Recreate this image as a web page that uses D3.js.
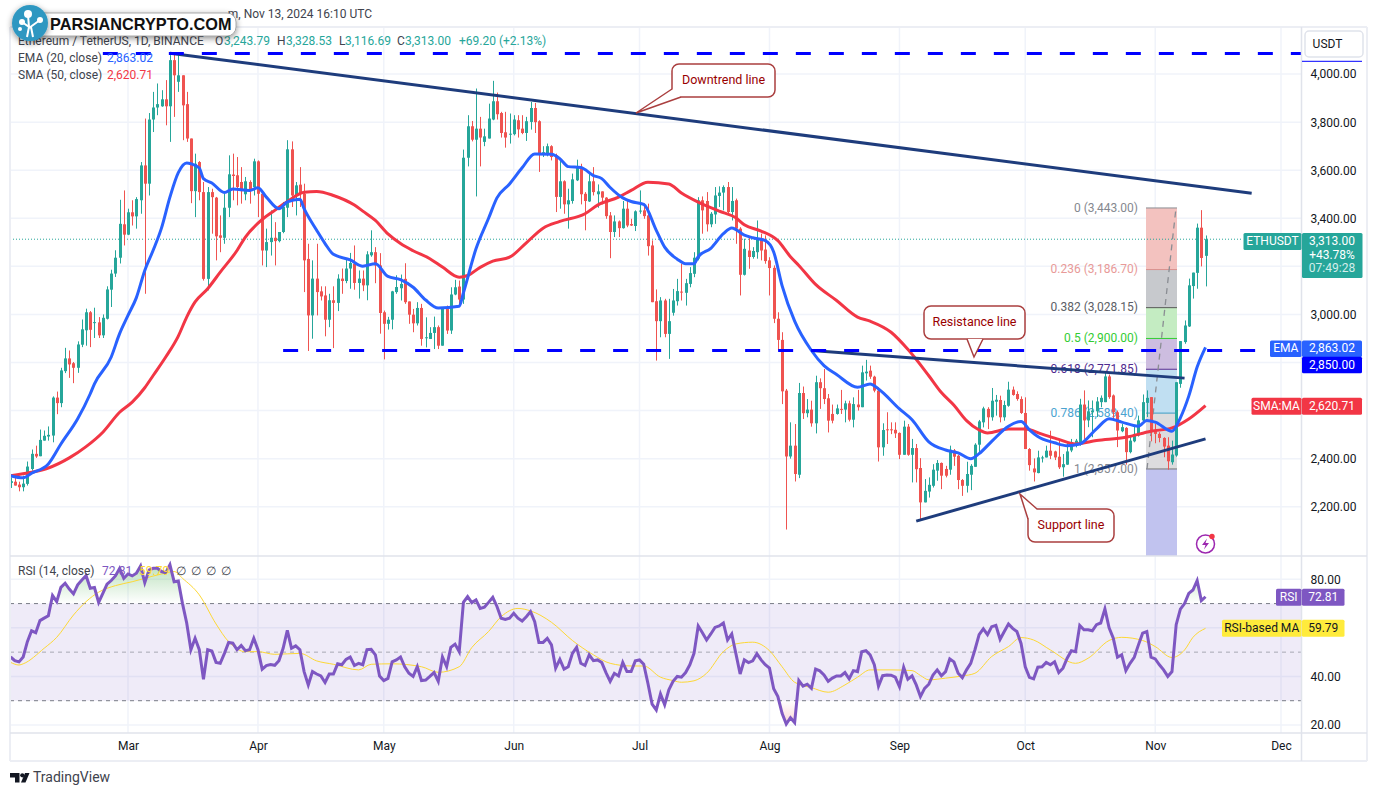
<!DOCTYPE html>
<html>
<head>
<meta charset="utf-8">
<script src="https://cdn.jsdelivr.net/npm/d3@7"></script>
<style>
  html, body { margin: 0; padding: 0; background: #fff; }
  svg { display: block; }
  text { font-family: Roboto, "Noto Sans", sans-serif; }
</style>
</head>
<body>
<svg id="chart" width="1377" height="796"></svg>
<script>
// Daily candles, one row per day from 2 Feb 2024: open, high, low, close
const candles = [
  [2299,2322,2278,2306],[2304,2322,2288,2288],[2292,2304,2264,2281],[2281,2329,2264,2296],[2295,2388,2288,2367],
  [2357,2438,2350,2420],[2420,2454,2403,2409],[2410,2521,2410,2478],[2475,2517,2475,2495],[2492,2534,2475,2499],
  [2496,2659,2468,2654],[2654,2679,2585,2631],[2631,2778,2614,2767],[2764,2861,2756,2817],[2817,2850,2736,2792],
  [2797,2802,2714,2778],[2778,2888,2757,2875],[2874,2979,2864,2938],[2934,3024,2870,3009],[3009,3014,2864,2936],
  [2964,3028,2902,2968],[2967,2989,2902,2913],[2913,3000,2902,2986],[2982,3117,2979,3104],[3103,3186,3031,3170],
  [3170,3267,3156,3236],[3236,3477,3212,3377],[3375,3516,3287,3332],[3332,3440,3330,3425],[3425,3475,3370,3408],
  [3408,3488,3357,3480],[3475,3634,3419,3620],[3620,3815,3086,3544],[3544,3838,3495,3811],[3811,3926,3759,3861],
  [3861,3961,3829,3875],[3866,3933,3864,3895],[3895,3975,3787,3866],[3866,4079,3718,4058],[4058,4086,3822,3995],
  [3968,4079,3926,3995],[3995,3995,3725,3870],[3875,3926,3718,3732],[3732,3732,3463,3513],[3513,3669,3405,3627],
  [3634,3638,3475,3509],[3509,3551,3141,3148],[3148,3530,3100,3509],[3509,3523,3336,3488],[3486,3489,3225,3325],
  [3329,3412,3259,3319],[3319,3502,3294,3444],[3444,3662,3405,3583],[3582,3669,3475,3576],[3579,3655,3454,3530],
  [3551,3613,3461,3513],[3500,3572,3475,3554],[3551,3558,3461,3516],[3530,3648,3495,3637],[3637,3641,3405,3502],
  [3502,3516,3204,3266],[3266,3357,3197,3301],[3301,3433,3245,3319],[3319,3384,3204,3305],[3305,3343,3300,3343],
  [3343,3468,3338,3447],[3444,3725,3405,3687],[3687,3720,3447,3495],[3495,3551,3412,3537],[3540,3613,3447,3502],
  [3502,3544,3093,3225],[3231,3294,2848,2996],[2996,3225,2899,3149],[3149,3294,2996,3093],[3096,3117,3058,3075],
  [3079,3117,2909,2978],[2978,3086,2947,3059],[3059,3117,2860,3048],[3048,3167,3014,3149],[3149,3191,3086,3139],
  [3139,3231,3130,3191],[3191,3256,3107,3214],[3211,3287,3103,3131],[3131,3183,3066,3149],[3149,3183,3097,3121],
  [3121,3263,3059,3250],[3246,3350,3240,3259],[3259,3280,3130,3204],[3204,3255,2920,3006],[3009,3016,2813,2961],
  [2961,2990,2937,2978],[2978,3098,2938,3096],[3093,3163,3086,3114],[3109,3166,3058,3127],[3148,3213,3044,3051],
  [3054,3054,2961,2999],[2999,3023,2926,2963],[2963,3051,2954,3027],[3027,3044,2870,2898],[2901,2988,2863,2905],
  [2898,2947,2898,2923],[2923,2991,2856,2947],[2947,2954,2856,2870],[2870,3030,2870,3027],[3023,3037,2919,2933],
  [2933,3113,2919,3083],[3083,3144,3080,3113],[3116,3141,3037,3062],[3062,3686,3044,3652],[3652,3829,3616,3783],
  [3783,3805,3720,3727],[3727,3940,3491,3773],[3773,3822,3616,3736],[3718,3773,3700,3741],[3732,3877,3732,3815],
  [3811,3972,3808,3887],[3887,3923,3811,3833],[3838,3843,3736,3755],[3758,3843,3694,3736],[3750,3836,3711,3752],
  [3750,3829,3745,3811],[3808,3829,3736,3770],[3773,3829,3750,3755],[3755,3822,3722,3804],[3801,3884,3769,3859],
  [3859,3880,3755,3800],[3804,3808,3593,3666],[3665,3700,3655,3675],[3665,3711,3658,3700],[3700,3704,3641,3655],
  [3662,3669,3426,3489],[3489,3648,3440,3554],[3554,3558,3419,3458],[3458,3523,3357,3475],[3472,3586,3461,3562],
  [3558,3644,3555,3614],[3614,3627,3458,3500],[3502,3509,3350,3472],[3470,3586,3468,3554],[3554,3613,3495,3509],
  [3500,3541,3444,3512],[3512,3512,3458,3486],[3486,3488,3398,3409],[3412,3426,3234,3343],[3343,3412,3322,3387],
  [3387,3391,3322,3359],[3359,3472,3357,3440],[3440,3477,3363,3370],[3376,3398,3368,3370],[3368,3433,3347,3429],
  [3429,3516,3419,3432],[3433,3461,3398,3409],[3412,3461,3245,3284],[3287,3308,3051,3051],[3055,3104,2808,2972],
  [2972,3072,2905,3058],[3058,3065,2905,2919],[2919,3065,2815,2972],[3007,3106,2995,3058],[3055,3148,3037,3097],
  [3095,3211,3058,3093],[3090,3148,3037,3130],[3127,3197,3113,3172],[3169,3259,3155,3236],[3232,3488,3225,3475],
  [3475,3491,3336,3433],[3472,3509,3345,3375],[3375,3426,3363,3419],[3416,3530,3377,3495],[3493,3533,3447,3507],
  [3507,3537,3433,3530],[3530,3551,3419,3426],[3426,3530,3391,3472],[3475,3482,3294,3357],[3357,3363,3079,3165],
  [3165,3315,3162,3273],[3266,3322,3190,3239],[3239,3280,3232,3264],[3259,3391,3232,3315],[3315,3336,3225,3266],
  [3270,3329,3211,3222],[3225,3238,3079,3193],[3194,3204,2964,2982],[2982,3009,2850,2894],[2894,2926,2627,2680],
  [2683,2690,2105,2409],[2409,2551,2400,2454],[2454,2544,2305,2336],[2333,2715,2319,2673],[2673,2700,2565,2589],
  [2589,2648,2572,2604],[2604,2641,2533,2547],[2547,2745,2505,2718],[2718,2734,2607,2693],[2693,2773,2627,2648],
  [2651,2669,2509,2558],[2586,2625,2547,2558],[2586,2625,2583,2609],[2607,2686,2586,2604],[2604,2641,2551,2630],
  [2630,2641,2555,2562],[2562,2655,2530,2627],[2625,2686,2600,2614],[2614,2787,2614,2759],[2755,2811,2725,2762],
  [2766,2787,2732,2741],[2741,2745,2676,2683],[2683,2697,2388,2447],[2447,2547,2412,2519],[2522,2593,2461,2519],
  [2522,2551,2502,2519],[2520,2551,2486,2505],[2507,2509,2398,2416],[2416,2558,2416,2533],[2533,2544,2412,2416],
  [2416,2482,2301,2444],[2444,2461,2301,2356],[2361,2402,2141,2218],[2218,2315,2218,2266],[2263,2322,2238,2291],
  [2287,2377,2280,2354],[2350,2394,2308,2382],[2382,2384,2273,2329],[2357,2370,2322,2329],[2354,2454,2333,2437],
  [2434,2440,2370,2408],[2412,2416,2273,2311],[2311,2315,2245,2287],[2287,2387,2259,2336],[2333,2377,2269,2370],
  [2366,2464,2366,2458],[2458,2561,2419,2555],[2551,2616,2530,2609],[2607,2614,2523,2572],[2572,2694,2558,2641],
  [2637,2665,2579,2645],[2644,2662,2551,2572],[2572,2641,2558,2623],[2620,2720,2616,2687],[2687,2700,2662,2665],
  [2669,2680,2641,2648],[2648,2659,2586,2590],[2590,2655,2440,2440],[2440,2444,2350,2373],[2359,2401,2305,2343],
  [2340,2433,2339,2405],[2402,2412,2384,2405],[2405,2454,2405,2433],[2433,2516,2398,2412],[2430,2433,2394,2405],
  [2408,2475,2357,2364],[2364,2419,2325,2377],[2375,2468,2374,2430],[2434,2482,2427,2468],[2458,2482,2447,2475],
  [2461,2649,2454,2625],[2625,2684,2482,2559],[2559,2642,2531,2597],[2593,2642,2489,2600],[2597,2656,2573,2638],
  [2635,2663,2614,2653],[2635,2756,2635,2742],[2742,2750,2649,2656],[2663,2667,2559,2593],[2593,2600,2448,2517],
  [2514,2545,2510,2531],[2528,2531,2375,2427],[2427,2496,2422,2475],[2472,2538,2468,2503],[2496,2579,2492,2559],
  [2559,2667,2556,2635],[2632,2684,2573,2653],[2656,2656,2472,2517],[2517,2545,2464,2503],[2503,2510,2468,2486],
  [2486,2489,2406,2450],[2454,2489,2354,2389],[2385,2475,2375,2417],[2413,2718,2408,2718],[2711,2889,2695,2889],
  [2885,2975,2878,2954],[2950,3149,2948,3121],[3118,3174,3066,3174],[3173,3378,3107,3361],[3361,3434,3200,3235],
  [3243.79,3328.53,3116.69,3313]
];

// Moving averages as [day index, value]
const ema20 = [[0,2329],[3,2320],[5,2339],[9,2378],[12,2461],[16,2566],[19,2670],[20,2711],[24,2823],[26,2920],[28,2996],[30,3070],
  [32,3183],[34,3267],[36,3360],[38,3488],[40,3590],[42,3630],[43,3627],[45,3609],[46,3565],[48,3547],[51,3507],[53,3522],[57,3516],
  [59,3527],[61,3488],[64,3440],[66,3468],[69,3479],[70,3440],[73,3350],[75,3295],[77,3250],[81,3227],[84,3201],[87,3211],[90,3158],
  [93,3145],[96,3113],[99,3060],[102,3027],[107,3034],[108,3090],[111,3273],[114,3400],[116,3485],[119,3543],[122,3610],[125,3668],
  [129,3666],[131,3648],[133,3615],[136,3611],[139,3578],[141,3565],[143,3528],[146,3485],[148,3470],[151,3458],[154,3350],[156,3280],
  [159,3230],[161,3211],[163,3211],[164,3240],[167,3275],[170,3336],[172,3360],[175,3330],[177,3319],[180,3307],[182,3260],[184,3120],
  [187,2972],[191,2850],[194,2787],[197,2750],[202,2697],[205,2711],[207,2690],[212,2607],[215,2562],[219,2470],[223,2436],[226,2424],
  [229,2400],[231,2421],[234,2472],[238,2535],[241,2555],[243,2520],[245,2492],[249,2466],[252,2454],[255,2461],[259,2524],[262,2566],
  [265,2552],[269,2535],[271,2559],[273,2552],[277,2514],[279,2570],[281,2660],[283,2781],[285,2863.02]];

const sma50 = [[0,2329],[5,2343],[9,2361],[14,2403],[18,2450],[22,2510],[26,2593],[29,2635],[32,2695],[34,2746],[37,2823],[40,2910],
  [42,2989],[44,3052],[47,3107],[50,3176],[54,3266],[56,3322],[60,3395],[63,3433],[66,3470],[70,3508],[73,3512],[77,3495],[82,3455],
  [84,3430],[87,3391],[90,3335],[93,3295],[96,3265],[100,3232],[103,3197],[107,3155],[109,3162],[112,3196],[115,3222],[119,3238],
  [123,3298],[127,3359],[131,3387],[137,3419],[140,3455],[145,3488],[148,3516],[152,3550],[157,3543],[160,3505],[164,3467],[169,3430],
  [173,3402],[175,3373],[179,3347],[183,3307],[186,3240],[188,3204],[192,3125],[197,3058],[202,2989],[205,2972],[210,2926],[214,2855],
  [219,2745],[222,2675],[225,2622],[228,2558],[231,2519],[233,2507],[238,2523],[242,2523],[246,2502],[250,2480],[254,2461],[259,2475],
  [266,2489],[272,2514],[277,2528],[281,2565],[285,2620.71]];

// RSI 14, one value per day
const rsi = [48,46.5,46,48,54.3,58.8,58,63,64,65,73.3,70.8,76.7,78.4,76,74,77.7,79.7,81.5,76.3,76.6,70.5,74.2,78,79.5,81.4,84.5,80.4,82.2,81.4,
  82.5,85.5,78.6,83.8,84.5,84.5,83.2,82.7,86,79,79.3,70,62,51,55.7,51,38.8,51,50.5,45.8,45.4,49.5,54,53.7,51,52.7,50.6,51,55.7,51,
  43,44.5,44.9,44.6,46.5,51.6,59,51.6,52.6,51,42,36.5,42,41,40.2,37.5,41,41,45.2,44.8,47,48,44.5,45.4,44.8,51,51.2,48.9,40.2,38.3,
  39.2,46,46.8,48,44,41.3,40,44,38.3,38.5,40,41.6,38,48,44,52,53.3,50.2,70.5,72.9,70.4,71.5,68,68.5,70.5,72.6,68.8,64,63.5,64,
  66,64,62.8,64.6,66.7,62.5,54,54,55.7,53,43.4,47,43,44,49.5,52,45.4,44.5,48.9,46.5,46.8,45.7,41.6,38,41.3,40.2,45.8,42,42,46.4,
  46.8,45,37.2,28.6,26.2,32.8,28.3,34.5,38,40,39.7,41.6,44.8,49.5,60.8,58,55,57.5,60.2,60.8,62,55,57.5,49.3,41,46.8,45.7,46.4,49.3,46.8,
  44.8,43.4,34.9,31.7,24.8,20.4,23,21,38.3,36,36.8,35.1,43,42.3,40.6,38,39.3,40.2,40.2,41.6,39,42.4,42,50.2,50.6,48.9,44.8,36,40.3,40.6,
  40.5,39.7,35.8,43.8,38.8,40.2,36.5,31.7,35.1,36.8,40.6,42.7,40.3,42,47.2,46,41.3,39.5,42.7,45.4,51,57.2,59.6,57.2,60.5,61,55.3,58.5,61.6,59.8,
  58.5,53.6,44,39.6,39,43.8,44,45.8,44.8,46,41.6,43.4,47.5,50.6,50.2,61,59.2,59.2,58.8,61.3,62,67.8,60,55.7,47.9,48.9,42.4,45.4,47.9,53,
  57.8,58.5,47.9,47.2,44.8,42.7,40,42,61.3,67.7,70,74.2,75.6,79.5,71.2,72.81];

const rsiMa = [[0,45.8],[2,44.7],[3,45.2],[8,51.6],[11,56.1],[15,65.3],[18,70.8],[21,74.7],[25,77.4],[29,79],[32,80.4],[36,82.2],[39,83.2],
  [41,80.4],[45,73.6],[49,61.6],[52,54.3],[56,50.2],[59,50.2],[63,49.1],[69,49.5],[73,46.4],[77,45],[83,42.7],[86,45],[91,45.2],[98,44],
  [102,41.7],[107,44],[110,51.9],[114,58.5],[117,64.6],[121,68],[124,67],[129,62.3],[134,54.8],[139,48.9],[143,45.4],[148,44.3],[151,44.3],
  [155,39.7],[158,38.3],[160,37.6],[163,38.2],[166,41.3],[170,50.2],[173,53.4],[177,54.1],[181,50.6],[184,44],[187,37.6],[191,35.4],[195,33.5],
  [199,36.5],[202,39.7],[205,42.7],[210,42.7],[215,42.4],[217,40.4],[219,38.6],[223,39.3],[227,40.2],[230,41.3],[234,48.2],[238,52.3],[241,56],
  [244,55],[248,50.9],[254,45.4],[257,47.5],[262,54.8],[265,56.1],[270,54.8],[273,52.3],[277,47.8],[280,50.9],[282,56.1],[285,59.79]];

// Fibonacci retracement drawn on the chart
const fibLevels = [
  { ratio: '0', price: 3443, line: '#8a8d93', text: '#85888f', fill: '#f3c2bf' },
  { ratio: '0.236', price: 3186.7, line: '#d98f8c', text: '#e89a98', fill: '#c7c9cd' },
  { ratio: '0.382', price: 3028.15, line: '#555', text: '#5b5e66', fill: '#c4ecc2' },
  { ratio: '0.5', price: 2900, line: '#33cc33', text: '#33cc33', fill: '#cdbde0' },
  { ratio: '0.618', price: 2771.85, line: '#5a2d91', text: '#4f2a8f', fill: '#c0dff2' },
  { ratio: '0.786', price: 2589.4, line: '#3a9bc5', text: '#4aa3d0', fill: '#dcdcde' },
  { ratio: '1', price: 2357, line: '#777', text: '#85888f', fill: '#c1c3ef' }
];

// Trend lines in [day index, price]
const trendLines = [
  [[38, 4087], [296, 3504]],
  [[191, 2850], [280, 2735]],
  [[216, 2140], [285, 2482]]
];
const dashedLevels = [
  { price: 4086, from: 22, to: 308 },
  { price: 2850, from: 65, to: 297 }
];

const colors = { up: '#26a69a', down: '#ef5350', ema: '#2962ff', sma: '#f23645', rsi: '#7e57c2', rsiMa: '#fdd835',
  grid: '#f0f3fa', border: '#e0e3eb', text: '#131722', navy: '#1e3c7c', note: '#990000', noteLine: '#aa3f3f' };

const svg = d3.select('#chart');

const left = 10, axisX = 1301.5, rightEdge = 1367;
const paneTop = 27, paneBottom = 556, rsiBottom = 733, frameBottom = 761;

const dayZero = Date.UTC(2024, 1, 2);
const dateOf = i => d3.utcDay.offset(dayZero, i);

// Scales
const x = d3.scaleUtc()
  .domain([Date.UTC(2024, 2, 1), Date.UTC(2024, 11, 1)])
  .range([128, 1281]);
const y = d3.scaleLinear().domain([2200, 4000]).range([506.7, 74.1]);
const yRsi = d3.scaleLinear().domain([20, 80]).range([725, 579.3]);

const xi = i => x(dateOf(i));

const defs = svg.append('defs');
defs.append('clipPath').attr('id', 'price-clip')
  .append('rect').attr('x', left).attr('y', paneTop).attr('width', axisX - left).attr('height', paneBottom - paneTop);
defs.append('clipPath').attr('id', 'over-70')
  .append('rect').attr('x', left).attr('y', paneBottom).attr('width', axisX - left).attr('height', yRsi(70) - paneBottom);
defs.append('clipPath').attr('id', 'under-30')
  .append('rect').attr('x', left).attr('y', yRsi(30)).attr('width', axisX - left).attr('height', rsiBottom - yRsi(30));

const greenFade = defs.append('linearGradient').attr('id', 'green-fade').attr('gradientUnits', 'userSpaceOnUse')
  .attr('x1', 0).attr('x2', 0).attr('y1', yRsi(86)).attr('y2', yRsi(70));
greenFade.append('stop').attr('offset', '0%').attr('stop-color', '#4caf50').attr('stop-opacity', 0.38);
greenFade.append('stop').attr('offset', '100%').attr('stop-color', '#4caf50').attr('stop-opacity', 0);
const redFade = defs.append('linearGradient').attr('id', 'red-fade').attr('gradientUnits', 'userSpaceOnUse')
  .attr('x1', 0).attr('x2', 0).attr('y1', yRsi(30)).attr('y2', yRsi(20));
redFade.append('stop').attr('offset', '0%').attr('stop-color', '#ef5350').attr('stop-opacity', 0);
redFade.append('stop').attr('offset', '100%').attr('stop-color', '#ef5350').attr('stop-opacity', 0.25);

const shadow = defs.append('filter').attr('id', 'logo-shadow')
  .attr('x', '-20%').attr('y', '-40%').attr('width', '140%').attr('height', '200%');
shadow.append('feDropShadow').attr('dx', 0).attr('dy', 2).attr('stdDeviation', 3).attr('flood-color', '#000').attr('flood-opacity', 0.45);

// Grid
const months = d3.utcMonths(Date.UTC(2024, 2, 1), Date.UTC(2024, 11, 2));
const grid = svg.append('g');
grid.selectAll('.v').data(months).enter().append('line')
  .attr('x1', d => x(d)).attr('x2', d => x(d))
  .attr('y1', paneTop).attr('y2', rsiBottom)
  .attr('stroke', colors.grid).attr('stroke-width', 1.5);
grid.selectAll('.h').data(d3.range(2200, 4001, 200)).enter().append('line')
  .attr('x1', left).attr('x2', axisX)
  .attr('y1', d => y(d)).attr('y2', d => y(d))
  .attr('stroke', colors.grid).attr('stroke-width', 1.5);
grid.selectAll('.r').data([80, 60, 40, 20]).enter().append('line')
  .attr('x1', left).attr('x2', axisX)
  .attr('y1', d => yRsi(d)).attr('y2', d => yRsi(d))
  .attr('stroke', colors.grid).attr('stroke-width', 1.5);

// Fib column
const fibX0 = 1146, fibX1 = 1177;
const fib = svg.append('g').attr('clip-path', 'url(#price-clip)');
fib.selectAll('rect').data(fibLevels).enter().append('rect')
  .attr('x', fibX0).attr('width', fibX1 - fibX0)
  .attr('y', d => y(d.price))
  .attr('height', (d, i) => (i < fibLevels.length - 1 ? y(fibLevels[i + 1].price) : paneBottom) - y(d.price))
  .attr('fill', d => d.fill);
fib.selectAll('line.level').data(fibLevels).enter().append('line')
  .attr('class', 'level')
  .attr('x1', fibX0).attr('x2', fibX1)
  .attr('y1', d => y(d.price)).attr('y2', d => y(d.price))
  .attr('stroke', d => d.line).attr('stroke-width', 1);
fib.append('line')
  .attr('x1', fibX0 + 1).attr('y1', y(2357))
  .attr('x2', fibX1 - 1).attr('y2', y(3443))
  .attr('stroke', '#8a8d93').attr('stroke-width', 1.3).attr('stroke-dasharray', '6 5');

svg.append('g').selectAll('text').data(fibLevels).enter().append('text')
  .attr('x', 1138).attr('y', d => y(d.price) + 0.5)
  .attr('text-anchor', 'end').attr('dominant-baseline', 'middle')
  .attr('font-size', 12).attr('fill', d => d.text)
  .text(d => `${d.ratio} (${d3.format(',.2f')(d.price)})`);

// Last price dotted line
svg.append('line')
  .attr('x1', left).attr('x2', 1243)
  .attr('y1', y(3313)).attr('y2', y(3313))
  .attr('stroke', colors.up).attr('stroke-width', 1).attr('stroke-dasharray', '1 2');

// Candles
const candleG = svg.append('g').attr('clip-path', 'url(#price-clip)');
const candle = candleG.selectAll('g').data(candles).enter().append('g')
  .attr('fill', d => d[3] >= d[0] ? colors.up : colors.down);
candle.append('rect')
  .attr('x', (d, i) => Math.round(xi(i)))
  .attr('width', 1)
  .attr('y', d => y(d[1]))
  .attr('height', d => y(d[2]) - y(d[1]));
candle.append('rect')
  .attr('x', (d, i) => Math.round(xi(i)) - 1)
  .attr('width', 3)
  .attr('y', d => y(Math.max(d[0], d[3])))
  .attr('height', d => Math.max(1, Math.abs(y(d[0]) - y(d[3]))));

// EMA and SMA
const maLine = d3.line().x(d => xi(d[0])).y(d => y(d[1])).curve(d3.curveMonotoneX);
svg.append('path').attr('d', maLine(sma50)).attr('fill', 'none')
  .attr('stroke', colors.sma).attr('stroke-width', 3);
svg.append('path').attr('d', maLine(ema20)).attr('fill', 'none')
  .attr('stroke', colors.ema).attr('stroke-width', 3);

// Trend lines
svg.append('g').selectAll('line').data(trendLines).enter().append('line')
  .attr('x1', d => xi(d[0][0])).attr('y1', d => y(d[0][1]))
  .attr('x2', d => xi(d[1][0])).attr('y2', d => y(d[1][1]))
  .attr('stroke', colors.navy).attr('stroke-width', 3);

svg.append('g').selectAll('line').data(dashedLevels).enter().append('line')
  .attr('x1', d => xi(d.from)).attr('x2', d => xi(d.to))
  .attr('y1', d => y(d.price)).attr('y2', d => y(d.price))
  .attr('stroke', '#0000ff').attr('stroke-width', 3).attr('stroke-dasharray', '15 18');

// Callouts
function callout(box, base, tip, label) {
  const g = svg.append('g');
  g.append('rect').attr('x', box[0]).attr('y', box[1]).attr('width', box[2]).attr('height', box[3]).attr('rx', 7)
    .attr('fill', '#fff').attr('stroke', colors.noteLine).attr('stroke-width', 1.5);
  g.append('path').attr('d', `M${base[0]}L${tip}L${base[1]}Z`).attr('fill', '#fff');
  g.append('path').attr('d', `M${base[0]}L${tip}L${base[1]}`).attr('fill', 'none')
    .attr('stroke', colors.noteLine).attr('stroke-width', 1.5);
  g.append('text').attr('x', box[0] + box[2] / 2).attr('y', box[1] + box[3] / 2 + 0.5)
    .attr('text-anchor', 'middle').attr('dominant-baseline', 'middle')
    .attr('font-size', 12.5).attr('fill', colors.note).text(label);
}
callout([672, 64, 103, 33], [[672, 89], [681, 97]], [636, 113], 'Downtrend line');
callout([924, 306, 101, 33], [[967, 339], [983, 339]], [974, 357], 'Resistance line');
callout([1028, 509, 86, 33], [[1028, 519], [1037, 509]], [1020, 494], 'Support line');

// Flash icon
const flash = svg.append('g');
flash.append('circle').attr('cx', 1205.5).attr('cy', 544).attr('r', 9)
  .attr('fill', '#fff').attr('stroke', '#9c27b0').attr('stroke-width', 1.5);
flash.append('path').attr('d', 'M1207 538.5L1202 545H1205.5L1204 549.5L1209 543H1205.5Z').attr('fill', '#9c27b0');
flash.append('circle').attr('cx', 1212).attr('cy', 536.5).attr('r', 2.7).attr('fill', '#f23645');

// RSI pane
svg.append('rect')
  .attr('x', left).attr('width', axisX - left)
  .attr('y', yRsi(70)).attr('height', yRsi(30) - yRsi(70))
  .attr('fill', colors.rsi).attr('fill-opacity', 0.12);
svg.append('g').selectAll('line').data([70, 50, 30]).enter().append('line')
  .attr('x1', left).attr('x2', axisX)
  .attr('y1', d => yRsi(d)).attr('y2', d => yRsi(d))
  .attr('stroke', '#787b86').attr('stroke-opacity', d => d === 50 ? 0.6 : 1)
  .attr('stroke-dasharray', '4 4').attr('stroke-width', 1);

const over = d3.area().x((d, i) => xi(i)).y0(yRsi(70)).y1(d => yRsi(d));
const under = d3.area().x((d, i) => xi(i)).y0(yRsi(30)).y1(d => yRsi(d));
svg.append('path').attr('d', over(rsi)).attr('fill', 'url(#green-fade)').attr('clip-path', 'url(#over-70)');
svg.append('path').attr('d', under(rsi)).attr('fill', 'url(#red-fade)').attr('clip-path', 'url(#under-30)');

svg.append('path')
  .attr('d', d3.line().x(d => xi(d[0])).y(d => yRsi(d[1])).curve(d3.curveMonotoneX)(rsiMa))
  .attr('fill', 'none').attr('stroke', colors.rsiMa).attr('stroke-width', 1);
svg.append('path')
  .attr('d', d3.line().x((d, i) => xi(i)).y(d => yRsi(d))(rsi))
  .attr('fill', 'none').attr('stroke', colors.rsi).attr('stroke-width', 3);

// Frame
const frame = svg.append('g').attr('fill', 'none');
frame.append('line').attr('x1', left).attr('x2', left).attr('y1', paneTop).attr('y2', frameBottom).attr('stroke', '#eceef4').attr('stroke-width', 2);
frame.append('line').attr('x1', rightEdge).attr('x2', rightEdge).attr('y1', paneTop).attr('y2', frameBottom).attr('stroke', '#eceef4').attr('stroke-width', 2);
frame.append('line').attr('x1', left).attr('x2', rightEdge).attr('y1', paneTop).attr('y2', paneTop).attr('stroke', '#eceef4').attr('stroke-width', 2);
frame.append('line').attr('x1', left).attr('x2', rightEdge).attr('y1', frameBottom).attr('y2', frameBottom).attr('stroke', '#eceef4').attr('stroke-width', 2);
frame.append('line').attr('x1', left).attr('x2', rightEdge).attr('y1', paneBottom).attr('y2', paneBottom).attr('stroke', colors.border).attr('stroke-width', 1.5);
frame.append('line').attr('x1', left).attr('x2', rightEdge).attr('y1', rsiBottom).attr('y2', rsiBottom).attr('stroke', colors.border).attr('stroke-width', 1.5);
frame.append('line').attr('x1', axisX).attr('x2', axisX).attr('y1', paneTop).attr('y2', frameBottom).attr('stroke', colors.border).attr('stroke-width', 1.5);

// Axes
const axisPrice = d3.axisRight(y)
  .tickValues([4000, 3800, 3600, 3400, 3000, 2400, 2200])
  .tickSize(0).tickPadding(9).tickFormat(d3.format(',.2f'));
const axisRsi = d3.axisRight(yRsi)
  .tickValues([80, 40, 20])
  .tickSize(0).tickPadding(9).tickFormat(d3.format('.2f'));
const axisTime = d3.axisBottom(x)
  .tickValues(months).tickSize(0).tickPadding(8).tickFormat(d3.utcFormat('%b'));

[
  svg.append('g').attr('transform', `translate(${axisX},0)`).call(axisPrice),
  svg.append('g').attr('transform', `translate(${axisX},0)`).call(axisRsi),
  svg.append('g').attr('transform', `translate(0,${rsiBottom})`).call(axisTime)
].forEach(a => {
  a.select('.domain').remove();
  a.selectAll('text').attr('font-family', null).attr('font-size', 12).attr('fill', colors.text);
});

// Price tags on the axis
function tag(x0, x1, yc, h, fill, label, textColor) {
  svg.append('rect').attr('x', x0).attr('y', yc - h / 2).attr('width', x1 - x0).attr('height', h).attr('rx', 1.5).attr('fill', fill);
  svg.append('text').attr('x', (x0 + x1) / 2).attr('y', yc + 0.5)
    .attr('text-anchor', 'middle').attr('dominant-baseline', 'middle')
    .attr('font-size', 12).attr('fill', textColor).text(label);
}
tag(1243.5, axisX, 241.5, 17, colors.up, 'ETHUSDT', '#fff');
svg.append('rect').attr('x', axisX + 0.5).attr('y', 233).attr('width', 60.5).attr('height', 45).attr('rx', 1.5).attr('fill', colors.up);
const lastTag = svg.append('text').attr('text-anchor', 'middle').attr('font-size', 12).attr('fill', '#fff');
lastTag.append('tspan').attr('x', 1332).attr('y', 245).text('3,313.00');
lastTag.append('tspan').attr('x', 1332).attr('dy', 13.7).text('+43.78%');
lastTag.append('tspan').attr('x', 1332).attr('dy', 13.7).attr('fill', '#d4eeeb').text('07:49:28');
tag(1270, axisX, 348.7, 16.5, colors.ema, 'EMA', '#fff');
tag(axisX + 0.5, 1362, 348.7, 16.5, colors.ema, '2,863.02', '#fff');
tag(axisX + 0.5, 1362, 365, 16.5, '#0000ff', '2,850.00', '#fff');
tag(1251.5, axisX, 406.3, 17, colors.sma, 'SMA:MA', '#fff');
tag(axisX + 0.5, 1362, 406.3, 17, colors.sma, '2,620.71', '#fff');
tag(1276, axisX, 597.3, 17, colors.rsi, 'RSI', '#fff');
tag(axisX + 0.5, 1344.5, 597.3, 17, colors.rsi, '72.81', '#fff');
tag(1222, axisX, 628.3, 17, '#ffeb3b', 'RSI-based MA', colors.text);
tag(axisX + 0.5, 1344.5, 628.3, 17, '#ffeb3b', '59.79', colors.text);

// Blue level tag sits behind the USDT button, only its lower edge shows
svg.append('line').attr('x1', axisX + 0.5).attr('x2', 1362).attr('y1', 61.3).attr('y2', 61.3)
  .attr('stroke', '#0000ff').attr('stroke-width', 1);
svg.append('rect').attr('x', 1305).attr('y', 31).attr('width', 58).attr('height', 26).attr('rx', 4)
  .attr('fill', '#fff').attr('stroke', colors.border).attr('stroke-width', 1.5);
svg.append('text').attr('x', 1327.5).attr('y', 44.5).attr('text-anchor', 'middle').attr('dominant-baseline', 'middle')
  .attr('font-size', 12).attr('fill', colors.text).text('USDT');

// Legend
function label(px, py, str, color, size) {
  svg.append('text').attr('x', px).attr('y', py).attr('dominant-baseline', 'middle')
    .attr('font-size', size || 12).attr('fill', color).text(str);
}
const legendGrey = '#40434d';
label(18, 42, 'Ethereum / TetherUS, 1D, BINANCE', legendGrey);
label(215, 42, 'O', legendGrey); label(224, 42, '3,243.79', colors.up);
label(277, 42, 'H', legendGrey); label(286, 42, '3,328.53', colors.up);
label(339, 42, 'L', legendGrey); label(345, 42, '3,116.69', colors.up);
label(397, 42, 'C', legendGrey); label(405, 42, '3,313.00', colors.up);
label(459, 42, '+69.20 (+2.13%)', colors.up);
label(18, 59, 'EMA (20, close)', legendGrey); label(107, 59, '2,863.02', colors.ema);
label(18, 76, 'SMA (50, close)', legendGrey); label(107, 76, '2,620.71', colors.sma);
label(18, 572, 'RSI (14, close)', legendGrey);
label(102, 572, '72.81', colors.rsi);
label(139, 572, '59.79', colors.rsiMa);
[176, 191, 206, 221].forEach(px => label(px, 572, '∅', legendGrey));

// Timestamp, its start is hidden by the watermark
svg.append('text').attr('x', 372).attr('y', 15).attr('text-anchor', 'end').attr('dominant-baseline', 'middle')
  .attr('font-size', 12).attr('fill', legendGrey).text('m, Nov 13, 2024 16:10 UTC');

const logo = svg.append('g');
logo.append('rect').attr('x', 26).attr('y', 13).attr('width', 210).attr('height', 23).attr('rx', 9)
  .attr('fill', '#fff').attr('stroke', '#888').attr('stroke-width', 0.7).attr('filter', 'url(#logo-shadow)');
logo.append('circle').attr('cx', 30).attr('cy', 23).attr('r', 18).attr('fill', '#2f97c1').attr('filter', 'url(#logo-shadow)');
logo.append('path').attr('d', 'M27 37L29 27L22 22M29 27L28 15M29 28L40 20M33 37L31 27')
  .attr('fill', 'none').attr('stroke', '#fff').attr('stroke-width', 2);
[[22, 22, 3], [28, 14, 4], [40, 20, 3], [20, 29, 2]].forEach(c => {
  logo.append('circle').attr('cx', c[0]).attr('cy', c[1]).attr('r', c[2]).attr('fill', '#fff');
});
logo.append('text').attr('x', 50).attr('y', 25.5).attr('dominant-baseline', 'middle')
  .attr('font-weight', 'bold').attr('font-size', 16.3)
  .attr('style', 'font-family:"Liberation Sans",sans-serif')
  .attr('fill', '#111').text('PARSIANCRYPTO.COM');

// TradingView mark
const tv = svg.append('g').attr('fill', '#131722');
tv.append('path').attr('d', 'M10 773H19.5V782.5H15V777.5H10Z');
tv.append('circle').attr('cx', 22.3).attr('cy', 775.3).attr('r', 2.1);
tv.append('path').attr('d', 'M25 773H29.5L25.5 782.5H21Z');
svg.append('text').attr('x', 33).attr('y', 778.5).attr('dominant-baseline', 'middle')
  .attr('font-size', 14).attr('fill', '#40434d').text('TradingView');
</script>
</body>
</html>
